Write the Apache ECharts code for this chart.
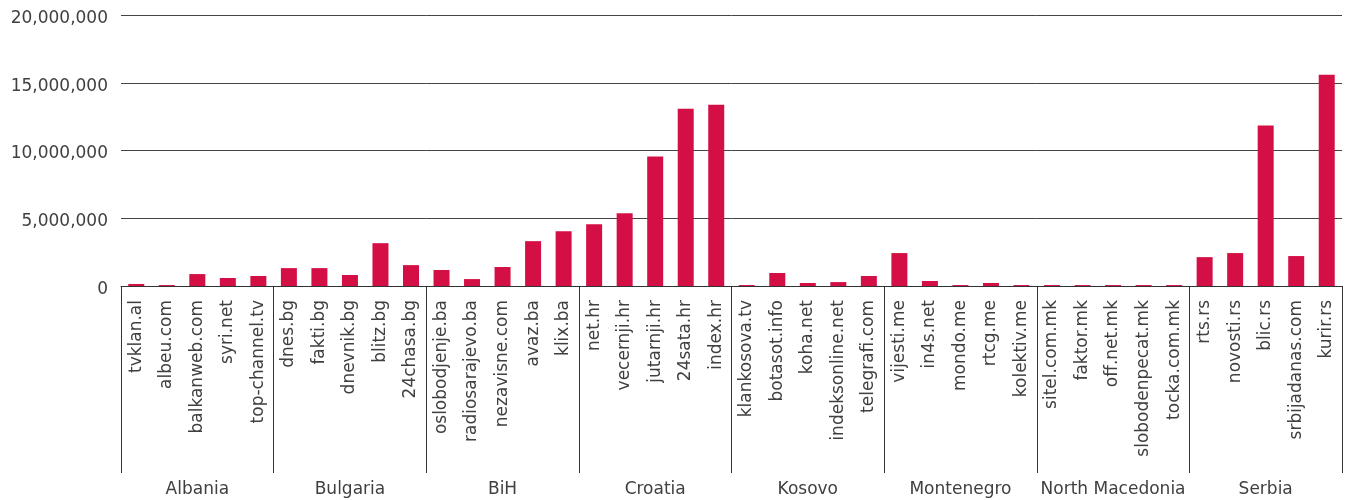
<!DOCTYPE html>
<html>
<head>
<meta charset="utf-8">
<script src="https://cdn.jsdelivr.net/npm/echarts@6/dist/echarts.min.js"></script>
<style>
html,body{margin:0;padding:0;background:#fff;}
#chart{width:1352px;height:500px;}
</style>
</head>
<body>
<div id="chart"></div>
<script>
const sites = [
  'tvklan.al','albeu.com','balkanweb.com','syri.net','top-channel.tv',
  'dnes.bg','fakti.bg','dnevnik.bg','blitz.bg','24chasa.bg',
  'oslobodjenje.ba','radiosarajevo.ba','nezavisne.com','avaz.ba','klix.ba',
  'net.hr','vecernji.hr','jutarnji.hr','24sata.hr','index.hr',
  'klankosova.tv','botasot.info','koha.net','indeksonline.net','telegrafi.com',
  'vijesti.me','in4s.net','mondo.me','rtcg.me','kolektiv.me',
  'sitel.com.mk','faktor.mk','off.net.mk','slobodenpecat.mk','tocka.com.mk',
  'rts.rs','novosti.rs','blic.rs','srbijadanas.com','kurir.rs'
];
const visits = [
  150000, 70000, 880000, 590000, 740000,
  1320000, 1320000, 810000, 3160000, 1540000,
  1180000, 510000, 1400000, 3310000, 4040000,
  4560000, 5370000, 9560000, 13090000, 13380000,
  70000, 960000, 220000, 290000, 740000,
  2430000, 370000, 70000, 220000, 70000,
  70000, 70000, 70000, 70000, 70000,
  2130000, 2430000, 11840000, 2210000, 15590000
];
const countries = ['Albania','Bulgaria','BiH','Croatia','Kosovo','Montenegro','North Macedonia','Serbia'];
const yTicks = [0, 5000000, 10000000, 15000000, 20000000];

const FONT = '"DejaVu Sans"';
const TXT = '#404040';
const chart = echarts.init(document.getElementById('chart'), null, {renderer:'canvas'});
chart.setOption({
  animation: false,
  backgroundColor: '#ffffff',
  grid: {left: 121, right: 10, top: 15, bottom: 214, containLabel: false},
  xAxis: [
    {
      type: 'category',
      data: sites,
      position: 'bottom',
      axisLine: {show: true, lineStyle: {color: '#333', width: 1}},
      axisTick: {show: false},
      axisLabel: {rotate: 90, interval: 0, margin: 14, color: TXT, fontFamily: FONT, fontSize: 17}
    },
    {
      type: 'category',
      data: countries,
      position: 'bottom',
      axisLine: {show: false},
      axisTick: {show: true, length: 187, lineStyle: {color: '#333', width: 1}},
      axisLabel: {interval: 0, margin: 195, color: TXT, fontFamily: FONT, fontSize: 17, verticalAlign: 'top'}
    }
  ],
  yAxis: {
    type: 'value',
    min: yTicks[0],
    max: yTicks[yTicks.length - 1],
    interval: yTicks[1] - yTicks[0],
    axisLine: {show: false},
    axisTick: {show: false},
    splitLine: {lineStyle: {color: '#444', width: 1}},
    axisLabel: {
      margin: 13, color: TXT, fontFamily: FONT, fontSize: 17,
      formatter: v => '{a|' + v.toLocaleString('en-US') + '}',
      rich: {a: {padding: [7, 0, 0, 0], color: TXT, fontFamily: FONT, fontSize: 17}}
    }
  },
  series: [{
    type: 'bar',
    xAxisIndex: 0,
    data: visits,
    barWidth: 16,
    itemStyle: {color: '#d30f45'}
  }]
});
</script>
</body>
</html>
